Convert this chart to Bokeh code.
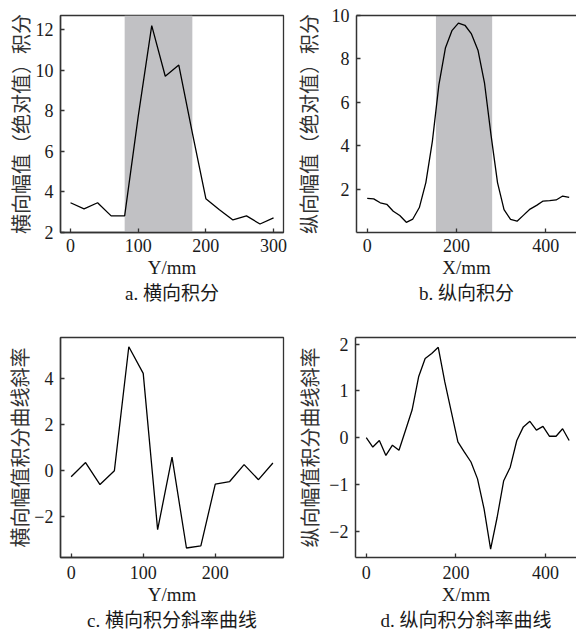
from bokeh.plotting import figure
from bokeh.models import Range1d, FixedTicker, BoxAnnotation, LinearAxis, Title, AllLabels
from bokeh.layouts import column, row
from bokeh.embed import file_html
from bokeh.resources import INLINE

# ---------------- data ----------------
# a. transverse integral
a_x = [0, 20, 40, 60, 80, 100, 120, 140, 160, 180, 200, 220, 240, 260, 280, 300]
a_y = [3.45, 3.15, 3.45, 2.8, 2.8, 7.7, 12.2, 9.7, 10.25, 6.9, 3.65, 3.1, 2.6, 2.8, 2.4, 2.7]
a_shade = [80, 180]

# b. longitudinal integral
b_x = [0, 14.6, 29.2, 43.8, 58.4, 73.0, 87.6, 102.2, 116.8, 131.4, 146.0, 160.6,
       175.2, 189.8, 204.4, 219.0, 233.6, 248.2, 262.8, 277.4, 292.0, 306.6, 321.2,
       335.8, 350.4, 365.0, 379.6, 394.2, 408.8, 423.4, 438.0, 452.6]
b_y = [1.57, 1.55, 1.37, 1.30, 0.98, 0.78, 0.47, 0.62, 1.15, 2.3, 4.2, 6.8,
       8.5, 9.3, 9.65, 9.55, 9.15, 8.4, 6.9, 4.5, 2.3, 1.05, 0.6,
       0.52, 0.8, 1.08, 1.25, 1.45, 1.47, 1.5, 1.68, 1.62]
b_shade = [154, 280]

# c. transverse integral slope
c_x = [0, 20, 40, 60, 80, 100, 120, 140, 160, 180, 200, 220, 240, 260, 280]
c_y = [-0.26, 0.35, -0.6, 0.0, 5.35, 4.2, -2.55, 0.58, -3.34, -3.25, -0.58, -0.47, 0.26, -0.39, 0.33]

# d. longitudinal integral slope
d_x = b_x
d_y = [0.0, -0.2, -0.06, -0.38, -0.16, -0.27, 0.16, 0.59, 1.3, 1.69, 1.8, 1.93,
       1.19, 0.55, -0.09, -0.31, -0.52, -0.88, -1.52, -2.38, -1.7, -0.92, -0.63,
       -0.06, 0.23, 0.35, 0.16, 0.24, 0.03, 0.03, 0.19, -0.06]

a_xticks = [0, 100, 200, 300]
a_yticks = [2, 4, 6, 8, 10, 12]
b_xticks = [0, 200, 400]
b_yticks = [2, 4, 6, 8, 10]
c_xticks = [0, 100, 200]
c_yticks = [-2, 0, 2, 4]
d_xticks = [0, 200, 400]
d_yticks = [-2, -1, 0, 1, 2]

a_ylabel = "横向幅值（绝对值）积分"
b_ylabel = "纵向幅值（绝对值）积分"
c_ylabel = "横向幅值积分曲线斜率"
d_ylabel = "纵向幅值积分曲线斜率"
a_xlabel = "Y/mm"
b_xlabel = "X/mm"
c_xlabel = "Y/mm"
d_xlabel = "X/mm"
a_cap = "a. 横向积分"
b_cap = "b. 纵向积分"
c_cap = "c. 横向积分斜率曲线"
d_cap = "d. 纵向积分斜率曲线"

FONT_NUM = "Liberation Serif"
FONT_CJK = "Noto Sans CJK SC"
FONT_MIX = "Liberation Serif, Noto Sans CJK SC"
AX = "#333333"
TXT = "#1a1a1a"


def make_fig(width, height, bl, br, bt, bb, xr, yr, xticks, yticks, xlabel, ylabel,
             lab_standoff, cap, box_top, tick_standoff, xlab_standoff, cap_standoff):
    p = figure(width=width, height=height, x_range=Range1d(*xr), y_range=Range1d(*yr),
               output_backend="svg", toolbar_location=None,
               min_border_left=bl, min_border_right=br, min_border_top=bt, min_border_bottom=bb)
    p.xgrid.visible = False
    p.ygrid.visible = False
    p.background_fill_color = "white"
    p.border_fill_color = "white"
    xax = p.below[0]
    yax = p.left[0]
    for ax in (xax, yax):
        ax.major_tick_in = 4
        ax.major_tick_out = 0
        ax.minor_tick_in = 0
        ax.minor_tick_out = 0
        ax.axis_line_color = AX
        ax.axis_line_width = 1.5
        ax.major_tick_line_color = AX
        ax.major_tick_line_width = 1.3
        ax.major_label_text_font = FONT_NUM
        ax.major_label_text_font_size = "18px"
        ax.major_label_text_color = TXT
        ax.major_label_policy = AllLabels()
        ax.axis_label_text_line_height = 1.0
    xax.ticker = FixedTicker(ticks=xticks)
    yax.ticker = FixedTicker(ticks=yticks)
    xax.major_label_standoff = tick_standoff
    yax.major_label_standoff = 7
    yax.major_label_overrides = {t: ("\u2212" + str(abs(t))) for t in yticks if t < 0}
    yax.axis_label = ylabel
    yax.axis_label_text_font = FONT_CJK
    yax.axis_label_text_font_size = "20px"
    yax.axis_label_text_font_style = "normal"
    yax.axis_label_text_color = "#333333"
    yax.axis_label_standoff = lab_standoff
    xax.axis_label = xlabel
    xax.axis_label_text_font = FONT_NUM
    xax.axis_label_text_font_size = "19px"
    xax.axis_label_text_font_style = "normal"
    xax.axis_label_text_color = TXT
    xax.axis_label_standoff = xlab_standoff
    p.add_layout(Title(text=cap, align="center", text_font=FONT_MIX, text_font_size="19px",
                       text_font_style="normal", text_color=TXT, text_line_height=1.0,
                       standoff=cap_standoff, offset=0), "below")
    if box_top:
        p.outline_line_color = AX
        p.outline_line_width = 1.3
    else:
        p.outline_line_color = None
        top = LinearAxis(major_tick_in=0, major_tick_out=0, minor_tick_in=0, minor_tick_out=0,
                         major_label_text_font_size="0px", axis_line_color=AX, axis_line_width=1.5,
                         ticker=FixedTicker(ticks=[]))
        p.add_layout(top, "above")
    return p


# ---- panel a ----  (frame 60..283 x 13..232)
a_xr = (-14.8, 314.7)
a_yr = (1.98, 12.7)
fa = make_fig(290, 305, 60, 7, 13, 73, a_xr, a_yr, a_xticks, a_yticks, a_xlabel, a_ylabel, -2, a_cap,
              True, 6, 2, 0)
fa.add_layout(BoxAnnotation(left=a_shade[0], right=a_shade[1], fill_color="#c1c1c4", fill_alpha=1.0,
                            line_color=None, level="underlay"))
fa.line(a_x, a_y, line_color="black", line_width=1.3)

# ---- panel b ----  (frame 355..576 x 15..232)
b_xr = (-24.0, 469.0)
b_yr = (0.0, 10.0)
fb = make_fig(286, 305, 65, 0, 15, 73, b_xr, b_yr, b_xticks, b_yticks, b_xlabel, b_ylabel, 6, b_cap,
              False, 6, 2, 0)
fb.add_layout(BoxAnnotation(left=b_shade[0], right=b_shade[1], fill_color="#c1c1c4", fill_alpha=1.0,
                            line_color=None, level="underlay"))
fb.line(b_x, b_y, line_color="black", line_width=1.3)

# ---- panel c ----  (frame 60..283 x 336..557)
c_xr = (-14.8, 294.7)
c_yr = (-3.75, 5.75)
fc = make_fig(290, 326, 60, 7, 31, 74, c_xr, c_yr, c_xticks, c_yticks, c_xlabel, c_ylabel, -3, c_cap,
              True, 8, 2, 1)
fc.line(c_x, c_y, line_color="black", line_width=1.3)

# ---- panel d ----  (frame 355..576 x 337..557)
d_xr = (-24.0, 469.0)
d_yr = (-2.56, 2.14)
fd = make_fig(286, 326, 65, 0, 32, 74, d_xr, d_yr, d_xticks, d_yticks, d_xlabel, d_ylabel, 2, d_cap,
              False, 8, 2, 1)
fd.line(d_x, d_y, line_color="black", line_width=1.3)

layout = column(row(fa, fb), row(fc, fd))
open("out.html", "w").write(file_html(layout, INLINE))
